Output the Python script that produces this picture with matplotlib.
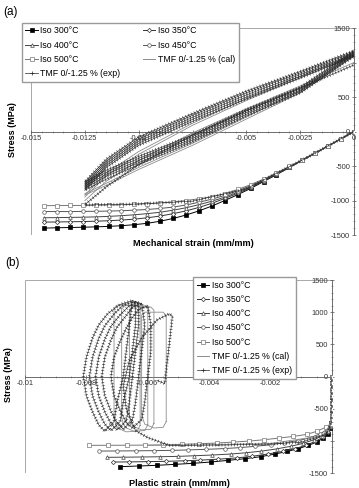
import matplotlib.pyplot as plt
import matplotlib.patheffects as pe
from matplotlib.lines import Line2D
from matplotlib.patches import Rectangle
from matplotlib.ticker import MultipleLocator

plt.rcParams['font.family'] = ['Liberation Sans', 'DejaVu Sans']

# ---------------- (a) isothermal monotonic curves, mechanical strain ----------------
iso_strain = [0, -0.0006, -0.0012, -0.0018, -0.0024, -0.003, -0.0036, -0.0042, -0.0048,
              -0.0054, -0.006, -0.0066, -0.0072, -0.0078, -0.0084, -0.009, -0.0096,
              -0.0102, -0.0108, -0.0114, -0.012, -0.0126, -0.0132, -0.0138, -0.0144]
iso_300 = [0, -105, -210, -315, -415, -520, -625, -725, -825, -915, -1000, -1080, -1150,
           -1210, -1260, -1300, -1330, -1350, -1365, -1375, -1382, -1387, -1391, -1395, -1400]
iso_350 = [0, -105, -210, -315, -415, -520, -620, -720, -810, -895, -970, -1040, -1100,
           -1150, -1190, -1225, -1250, -1270, -1283, -1293, -1300, -1305, -1308, -1311, -1313]
iso_400 = [0, -105, -210, -315, -415, -515, -615, -710, -800, -880, -950, -1010, -1060,
           -1105, -1140, -1170, -1190, -1207, -1220, -1230, -1237, -1242, -1245, -1248, -1250]
iso_450 = [0, -105, -210, -310, -410, -510, -605, -700, -785, -860, -925, -980, -1025,
           -1065, -1095, -1115, -1130, -1140, -1148, -1153, -1156, -1158, -1160, -1160, -1160]
iso_500 = [0, -105, -210, -310, -410, -505, -600, -690, -770, -840, -900, -945, -975,
           -1000, -1020, -1035, -1045, -1055, -1062, -1066, -1069, -1071, -1072, -1073, -1075]

# ---------------- (a) TMF 0/-1.25 % loops ----------------
tmf_strain = [0, -0.0025, -0.005, -0.0075, -0.01, -0.0115, -0.0125]
exp_tension = [[1170, 870, 585, 260, -80, -400, -730],
               [1150, 850, 560, 235, -110, -430, -760],
               [1130, 825, 530, 205, -140, -460, -790],
               [1110, 800, 500, 175, -170, -490, -820],
               [1090, 775, 470, 145, -200, -520, -850],
               [965, 630, 300, -50, -480, -800, -1060]]
exp_compression = [[1170, 640, 320, -50, -360, -560, -730],
                   [1150, 620, 300, -75, -390, -590, -760],
                   [1130, 600, 275, -100, -420, -620, -790],
                   [1110, 580, 250, -125, -450, -650, -820],
                   [1090, 560, 225, -150, -480, -690, -850]]
exp_load_strain = [0, -0.0025, -0.005, -0.0075, -0.01, -0.0125]
exp_load_stress = [0, -430, -830, -1010, -1050, -1065]
cal_tension = [[1100, 780, 450, 90, -330, -640, -950],
               [1120, 800, 480, 120, -290, -600, -920],
               [1000, 660, 330, -20, -420, -720, -1000]]
cal_compression = [[1100, 560, 180, -200, -550, -780, -920],
                   [1120, 590, 210, -170, -520, -750, -900]]

# ---------------- (b) isothermal curves, plastic strain ----------------
pe_300 = [0, 0, 0, 0, 0, 0, 0, -0.00002, -0.00005, -0.00012, -0.00028, -0.0005, -0.00077,
          -0.0011, -0.00145, -0.00186, -0.00232, -0.00283, -0.00338, -0.00395, -0.00452,
          -0.0051, -0.0057, -0.0063, -0.0069]
s_300 = [0, -105, -210, -315, -415, -520, -625, -720, -800, -890, -957, -1019, -1070, -1122,
         -1163, -1205, -1246, -1277, -1303, -1329, -1349, -1365, -1380, -1391, -1401]
pe_350 = [0, 0, 0, 0, 0, 0, 0, -0.00001, -0.00004, -0.00012, -0.0003, -0.00055, -0.00085,
          -0.0012, -0.0016, -0.0021, -0.0026, -0.0031, -0.0037, -0.0043, -0.0048, -0.0054,
          -0.006, -0.0066, -0.00712]
s_350 = [0, -105, -210, -315, -415, -520, -620, -710, -790, -870, -945, -1010, -1070, -1120,
         -1165, -1205, -1240, -1265, -1285, -1300, -1310, -1318, -1323, -1327, -1329]
pe_400 = [0, 0, 0, 0, 0, 0, 0, -0.00001, -0.00004, -0.00013, -0.00032, -0.0006, -0.00095,
          -0.00135, -0.0018, -0.0023, -0.0028, -0.0033, -0.0039, -0.0045, -0.005, -0.0056,
          -0.0062, -0.0068, -0.00734]
s_400 = [0, -105, -210, -315, -415, -515, -615, -700, -770, -850, -920, -985, -1040, -1085,
         -1125, -1160, -1185, -1205, -1220, -1232, -1241, -1247, -1251, -1254, -1256]
pe_450 = [0, 0, 0, 0, 0, 0, 0, -0.00001, -0.00004, -0.00015, -0.00038, -0.0007, -0.0011,
          -0.00155, -0.002, -0.0025, -0.003, -0.0035, -0.0041, -0.0047, -0.0052, -0.0058,
          -0.0064, -0.007, -0.0076]
s_450 = [0, -105, -210, -310, -410, -510, -605, -690, -750, -820, -890, -950, -995, -1030,
         -1060, -1085, -1105, -1120, -1132, -1141, -1148, -1152, -1155, -1157, -1159]
pe_500 = [0, 0, 0, 0, 0, 0, 0, -0.00001, -0.00004, -0.0002, -0.00048, -0.00082, -0.00126,
          -0.00173, -0.0022, -0.00269, -0.00321, -0.00376, -0.00433, -0.0049, -0.0055,
          -0.00609, -0.00669, -0.0073, -0.0079]
s_500 = [0, -105, -210, -310, -410, -505, -600, -680, -734, -786, -849, -900, -931, -957,
         -982, -1003, -1019, -1034, -1045, -1055, -1062, -1066, -1068, -1069, -1070]

# ---------------- (b) TMF loops, plastic strain ----------------
exp_b_first_x = [0, 0, 0, -0.0002, -0.001, -0.002, -0.0035, -0.0053, -0.006, -0.0064, -0.0067,
                 -0.0068, -0.0066, -0.0062, -0.0057, -0.0053, -0.0052, -0.0053, -0.0054,
                 -0.00545, -0.0057]
exp_b_first_y = [0, -400, -700, -900, -1020, -1050, -1065, -1070, -950, -840, -500, -150,
                 250, 600, 880, 975, 940, 500, 100, -110, -60]
exp_b_loops_x = [
    [-0.006, -0.0063, -0.0065, -0.0067, -0.0069, -0.0071, -0.0072, -0.0071, -0.0069,
     -0.0067, -0.0065, -0.0062, -0.0061, -0.006, -0.0059, -0.0059, -0.006],
    [-0.0062, -0.0065, -0.0067, -0.007, -0.0072, -0.0074, -0.0075, -0.0074, -0.0072,
     -0.007, -0.0068, -0.0065, -0.0064, -0.0063, -0.0062, -0.0061, -0.0062],
    [-0.0063, -0.0066, -0.0069, -0.0072, -0.0074, -0.0076, -0.0077, -0.0076, -0.0074,
     -0.0072, -0.007, -0.0067, -0.0066, -0.0065, -0.0064, -0.0063, -0.0063],
    [-0.0064, -0.0068, -0.0071, -0.0074, -0.0076, -0.0078, -0.0079, -0.0078, -0.0076,
     -0.0074, -0.0072, -0.0069, -0.0068, -0.0066, -0.0065, -0.0064, -0.0064],
    [-0.0065, -0.0069, -0.0073, -0.0076, -0.0078, -0.008, -0.0081, -0.008, -0.0078,
     -0.0076, -0.0074, -0.0071, -0.007, -0.0068, -0.0067, -0.0066, -0.0065]]
exp_b_loops_y = [
    [1100, 1040, 920, 750, 550, 300, 0, -300, -530, -710, -800, -670, -400, 0, 400, 800, 1100],
    [1140, 1080, 950, 770, 570, 300, 0, -300, -540, -720, -820, -680, -400, 0, 400, 800, 1140],
    [1160, 1100, 960, 780, 580, 300, 0, -300, -550, -730, -830, -690, -400, 0, 400, 800, 1160],
    [1170, 1110, 970, 790, 590, 300, 0, -300, -550, -740, -840, -700, -400, 0, 400, 800, 1170],
    [1180, 1120, 980, 800, 600, 300, 0, -300, -550, -750, -850, -700, -400, 0, 400, 800, 1180]]
cal_b_first_x = [0, 0, -0.0003, -0.002, -0.0045, -0.006]
cal_b_first_y = [0, -700, -920, -1040, -1065, -1070]
cal_b_loops_x = [
    [-0.0054, -0.0054, -0.0055, -0.0061, -0.0062, -0.0062, -0.0061, -0.0058, -0.0055, -0.0054],
    [-0.0058, -0.0058, -0.0059, -0.0065, -0.0066, -0.0066, -0.0065, -0.0062, -0.0059, -0.0058],
    [-0.006, -0.006, -0.0061, -0.00675, -0.00685, -0.00685, -0.00675, -0.00645, -0.0061, -0.006],
    [-0.00625, -0.00625, -0.00635, -0.007, -0.0071, -0.0071, -0.007, -0.0067, -0.00635, -0.00625]]
cal_b_loops_y = [
    [-700, 950, 1000, 1000, 950, -600, -740, -800, -790, -700],
    [-730, 1030, 1080, 1080, 1030, -630, -770, -830, -820, -730],
    [-750, 1050, 1100, 1100, 1050, -650, -790, -850, -840, -750],
    [-760, 1060, 1110, 1110, 1060, -660, -800, -860, -850, -760]]

iso_labels = ['Iso 300°C', 'Iso 350°C', 'Iso 400°C', 'Iso 450°C', 'Iso 500°C']
cal_label = 'TMF 0/-1.25 % (cal)'
exp_label = 'TMF 0/-1.25 % (exp)'

iso_markers = ['s', 'D', '^', 'o', 's']
iso_colors = ['black', '#333333', '#444444', '#555555', '#777777']
iso_faces = ['black', 'white', 'white', 'white', 'white']
iso_ms = [2.6, 2.2, 2.6, 2.6, 2.8]
cal_color = '#8c8c8c'
exp_color = '#262626'

ticked = [pe.TickedStroke(angle=90, spacing=2.2, length=0.42),
          pe.TickedStroke(angle=-90, spacing=2.2, length=0.42), pe.Normal()]


def plot_iso(ax, xs, ys):
    for i in range(5):
        ax.plot(xs[i], ys[i], color=iso_colors[i], lw=0.7, marker=iso_markers[i],
                ms=iso_ms[i], mfc=iso_faces[i], mec=iso_colors[i], mew=0.5, zorder=3)


def plot_exp(ax, x, y):
    ax.plot(x, y, color=exp_color, lw=0.4, zorder=4, path_effects=ticked)


def plot_cal(ax, x, y):
    ax.plot(x, y, color=cal_color, lw=0.6, zorder=3.5)


def style_axes(ax, xlim, xminor, xticks, xlabels, yticks, ylabels):
    ax.set_xlim(*xlim)
    ax.set_ylim(-1500, 1500)
    ax.spines['top'].set_visible(False)
    ax.spines['right'].set_visible(False)
    ax.spines['bottom'].set_position(('data', 0))
    ax.spines['left'].set_position(('data', 0))
    for s in ('bottom', 'left'):
        ax.spines[s].set_color('#555555')
        ax.spines[s].set_linewidth(0.6)
    ax.add_patch(Rectangle((0, 0), 1, 1, transform=ax.transAxes, fill=False,
                           ec='#9a9a9a', lw=0.6, zorder=1))
    ax.set_xticks(xticks)
    ax.set_xticklabels(xlabels)
    ax.xaxis.set_minor_locator(MultipleLocator(xminor))
    ax.set_yticks(yticks)
    ax.set_yticklabels(ylabels)
    ax.yaxis.set_minor_locator(MultipleLocator(100))
    ax.tick_params(axis='both', which='major', labelsize=5.4, length=2.5, width=0.5,
                   direction='inout', colors='#555555', labelcolor='#333333', pad=1.5)
    ax.tick_params(axis='both', which='minor', length=1.5, width=0.4,
                   direction='inout', colors='#777777')


def legend_handles():
    hs = []
    for i in range(5):
        hs.append(Line2D([], [], color=iso_colors[i], lw=0.7, marker=iso_markers[i],
                         ms=iso_ms[i], mfc=iso_faces[i], mec=iso_colors[i], mew=0.5))
    hs.append(Line2D([], [], color=cal_color, lw=0.7))
    hs.append(Line2D([], [], color=exp_color, lw=0.5, marker='+', ms=3, mew=0.5))
    return hs


fig = plt.figure(figsize=(3.59, 4.88), dpi=100)

# ---- panel (a)
ax1 = fig.add_axes([0.0864, 0.5184, 0.8997, 0.4242])
plot_iso(ax1, [iso_strain] * 5, [iso_300, iso_350, iso_400, iso_450, iso_500])
for c in cal_compression:
    plot_cal(ax1, tmf_strain, c)
for c in cal_tension:
    plot_cal(ax1, tmf_strain, c)
plot_exp(ax1, exp_load_strain, exp_load_stress)
for c in exp_compression:
    plot_exp(ax1, tmf_strain, c)
for c in exp_tension:
    plot_exp(ax1, tmf_strain, c)
style_axes(ax1, (-0.015, 0), 0.0005,
           [-0.015, -0.0125, -0.01, -0.0075, -0.005, -0.0025, 0],
           ['-0.015', '-0.0125', '-0.01', '', '-0.005', '-0.0025', '0'],
           [-1500, -1000, -500, 0, 500, 1000, 1500],
           ['-1500', '-1000', '-500', '0', '500', '', '1500'])

h = legend_handles()
order_a = [0, 2, 4, 6, 1, 3, 5]
fig.legend([h[i] for i in order_a], [(iso_labels + [cal_label, exp_label])[i] for i in order_a],
           ncol=2, loc='upper left', bbox_to_anchor=(0.061, 0.953), fontsize=6.3,
           frameon=True, fancybox=False, edgecolor='#9a9a9a', framealpha=1,
           handlelength=1.4, handletextpad=0.3, labelspacing=0.6, columnspacing=2.6,
           borderpad=0.4, borderaxespad=0)
fig.text(0.03, 0.975, '(a)', fontsize=8.5, ha='center', va='center')
fig.text(0.034, 0.734, 'Stress (MPa)', fontsize=6.5, fontweight='bold', rotation=90,
         ha='center', va='center')
fig.text(0.538, 0.502, 'Mechanical strain (mm/mm)', fontsize=6.6, fontweight='bold',
         ha='center', va='center')

# ---- panel (b)
ax2 = fig.add_axes([0.0696, 0.0307, 0.8552, 0.3955])
plot_iso(ax2, [pe_300, pe_350, pe_400, pe_450, pe_500], [s_300, s_350, s_400, s_450, s_500])
plot_cal(ax2, cal_b_first_x, cal_b_first_y)
for x, y in zip(cal_b_loops_x, cal_b_loops_y):
    plot_cal(ax2, x, y)
plot_exp(ax2, exp_b_first_x, exp_b_first_y)
for x, y in zip(exp_b_loops_x, exp_b_loops_y):
    plot_exp(ax2, x, y)
style_axes(ax2, (-0.01, 0), 0.0005,
           [-0.01, -0.008, -0.006, -0.004, -0.002, 0],
           ['-0.01', '-0.008', '-0.006', '-0.004', '-0.002', ''],
           [-1500, -1000, -500, 0, 500, 1000, 1500],
           ['-1500', '', '-500', '0', '500', '1000', '1500'])

fig.legend(h, iso_labels + [cal_label, exp_label], ncol=1, loc='upper left',
           bbox_to_anchor=(0.538, 0.433), fontsize=6.3, frameon=True, fancybox=False,
           edgecolor='#9a9a9a', framealpha=1, handlelength=1.4, handletextpad=0.3,
           labelspacing=0.6, borderpad=0.45, borderaxespad=0)
fig.text(0.035, 0.461, '(b)', fontsize=8.5, ha='center', va='center')
fig.text(0.024, 0.232, 'Stress (MPa)', fontsize=6.5, fontweight='bold', rotation=90,
         ha='center', va='center')
fig.text(0.501, 0.009, 'Plastic strain (mm/mm)', fontsize=6.6, fontweight='bold',
         ha='center', va='center')

fig.savefig('out.png', dpi=100, facecolor='white')
